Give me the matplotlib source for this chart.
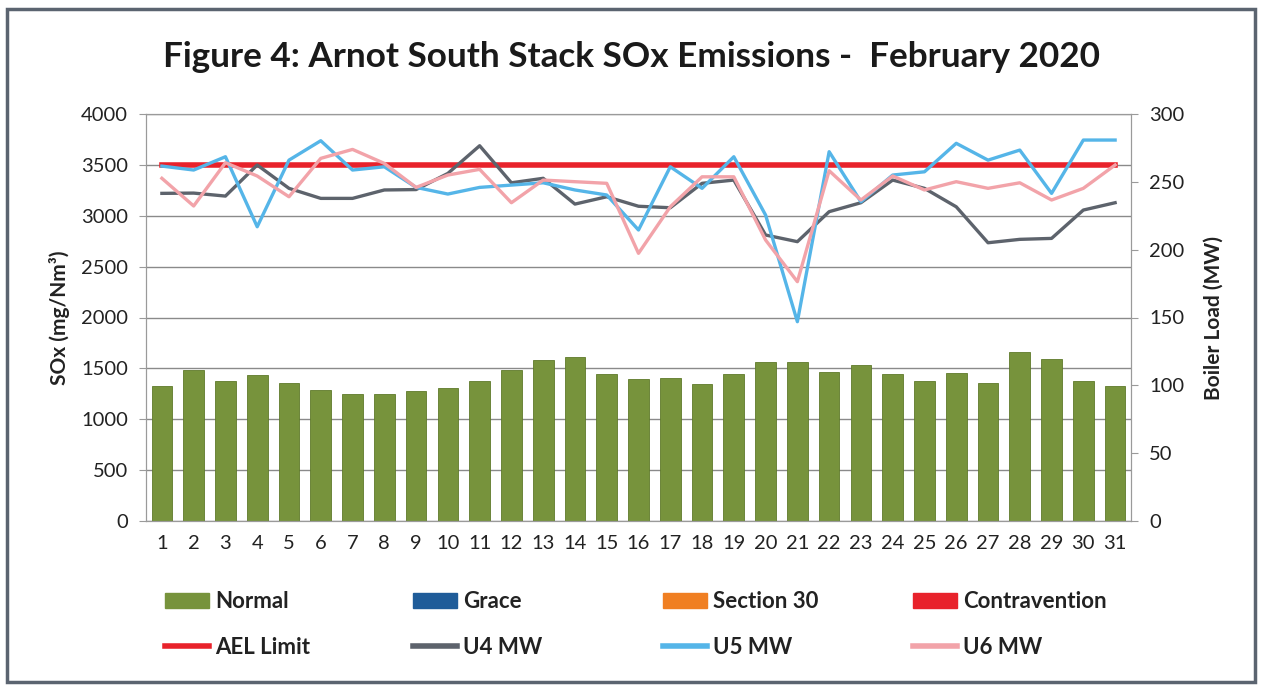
import matplotlib
matplotlib.use("Agg")
import matplotlib.pyplot as plt
from matplotlib.patches import Patch, Rectangle
from matplotlib.lines import Line2D

plt.rcParams['font.family'] = ['Lato', 'DejaVu Sans']

days = list(range(1, 32))
day_labels = [str(d) for d in days]

# daily SOx (mg/Nm3), all "Normal"
sox = [1330, 1480, 1380, 1430, 1360, 1290, 1245, 1245, 1280, 1305,
       1380, 1480, 1585, 1610, 1445, 1395, 1410, 1345, 1445, 1560,
       1560, 1465, 1530, 1445, 1380, 1455, 1355, 1660, 1595, 1380, 1330]
ael_limit = 3500

# boiler load (MW)
u4_mw = [241.5, 241.7, 239.5, 262.4, 245.2, 237.8, 237.8, 244.0, 244.3, 256.2,
         276.6, 249.3, 252.6, 233.6, 239.0, 232.0, 230.9, 248.9, 251.3, 210.8,
         205.9, 228.0, 234.6, 251.3, 245.2, 231.6, 205.1, 207.6, 208.3, 229.2, 234.6]
u5_mw = [261.6, 258.7, 268.5, 216.9, 266.0, 280.3, 258.7, 261.1, 245.9, 241.0,
         245.9, 247.6, 249.3, 244.0, 240.3, 214.5, 261.1, 245.2, 268.5, 225.5,
         146.9, 272.2, 235.3, 255.0, 257.4, 278.4, 266.0, 273.4, 241.5, 280.8, 280.8]
u6_mw = [252.6, 232.2, 264.1, 254.3, 239.0, 267.3, 273.9, 263.6, 245.9, 255.0,
         259.2, 234.6, 251.3, 250.1, 248.9, 197.3, 231.6, 253.7, 253.7, 207.1,
         176.4, 258.2, 236.6, 254.3, 244.0, 250.1, 245.2, 249.3, 236.6, 245.2, 262.4]

green = '#77933c'
grace = '#1f5c99'
sec30 = '#f07f22'
contra = '#e8222b'
ael_col = '#e8222b'
u4_col = '#5d636c'
u5_col = '#55b5e8'
u6_col = '#f2a3a9'

fig = plt.figure(figsize=(12.63, 6.85), dpi=100)
ax = fig.add_axes([146/1263, 1-521/685, (1131-146)/1263, (521-114)/685])
ax2 = ax.twinx()

ax.bar(days, sox, width=0.65, color=green, edgecolor='#5e7a2a', linewidth=0.6, zorder=2)
ax.plot([days[0], days[-1]], [ael_limit, ael_limit], color=ael_col, lw=4, zorder=3)

ax2.plot(days, u4_mw, color=u4_col, lw=2.4)
ax2.plot(days, u5_mw, color=u5_col, lw=2.4)
ax2.plot(days, u6_mw, color=u6_col, lw=2.4)

ax.set_xlim(0.5, 31.5)
ax.set_ylim(0, 4000)
ax2.set_ylim(0, 300)
ax.set_yticks(range(0, 4001, 500))
ax2.set_yticks(range(0, 301, 50))
ax.set_xticks(days)
ax.set_xticklabels(day_labels)
ax.grid(axis='y', color='#8a8a8a', lw=1)
ax.set_axisbelow(True)

for a in (ax, ax2):
    for s in a.spines.values():
        s.set_color('#9a9a9a')
    a.tick_params(labelsize=14.5, colors='#9a9a9a', labelcolor='#222222')
ax.tick_params(axis='x', length=0, pad=10)
ax.tick_params(axis='y', length=5, pad=8)
ax2.tick_params(axis='y', length=5, pad=8)

ax.set_ylabel('SOx (mg/Nm³)', fontsize=15, fontweight='bold', color='#222222', labelpad=8)
ax2.set_ylabel('Boiler Load (MW)', fontsize=15, fontweight='bold', color='#222222', labelpad=14)

fig.text(0.5, 1-57/685, 'Figure 4: Arnot South Stack SOx Emissions -  February 2020',
         ha='center', va='center', fontsize=25.3, fontweight='bold', color='#1a1a1a')

# legend: four columns, each its own legend so columns sit on an even grid
legend_cols = [
    ([Patch(facecolor=green, edgecolor=green), Line2D([], [], color=ael_col, lw=4)],
     ['Normal', 'AEL Limit']),
    ([Patch(facecolor=grace, edgecolor=grace), Line2D([], [], color=u4_col, lw=4)],
     ['Grace', 'U4 MW']),
    ([Patch(facecolor=sec30, edgecolor=sec30), Line2D([], [], color=u5_col, lw=4)],
     ['Section 30', 'U5 MW']),
    ([Patch(facecolor=contra, edgecolor=contra), Line2D([], [], color=u6_col, lw=4)],
     ['Contravention', 'U6 MW']),
]
col_x = [165, 413, 663, 913]
for (h, l), x in zip(legend_cols, col_x):
    leg = fig.legend(h, l, loc='center left', frameon=False,
                     bbox_to_anchor=(x/1263, 1-624.5/685),
                     prop={'weight': 'bold', 'size': 16},
                     handlelength=2.0, handleheight=0.7, handletextpad=0.27,
                     labelspacing=1.12, borderaxespad=0, borderpad=0)
    for t in leg.get_texts():
        t.set_color('#222222')

fig.patches.append(Rectangle((7/1263, 1-682/685), (1255-7)/1263, (682-9)/685,
                             transform=fig.transFigure, fill=False,
                             edgecolor='#5b6470', lw=2.5))

fig.savefig('out.png', dpi=100)
